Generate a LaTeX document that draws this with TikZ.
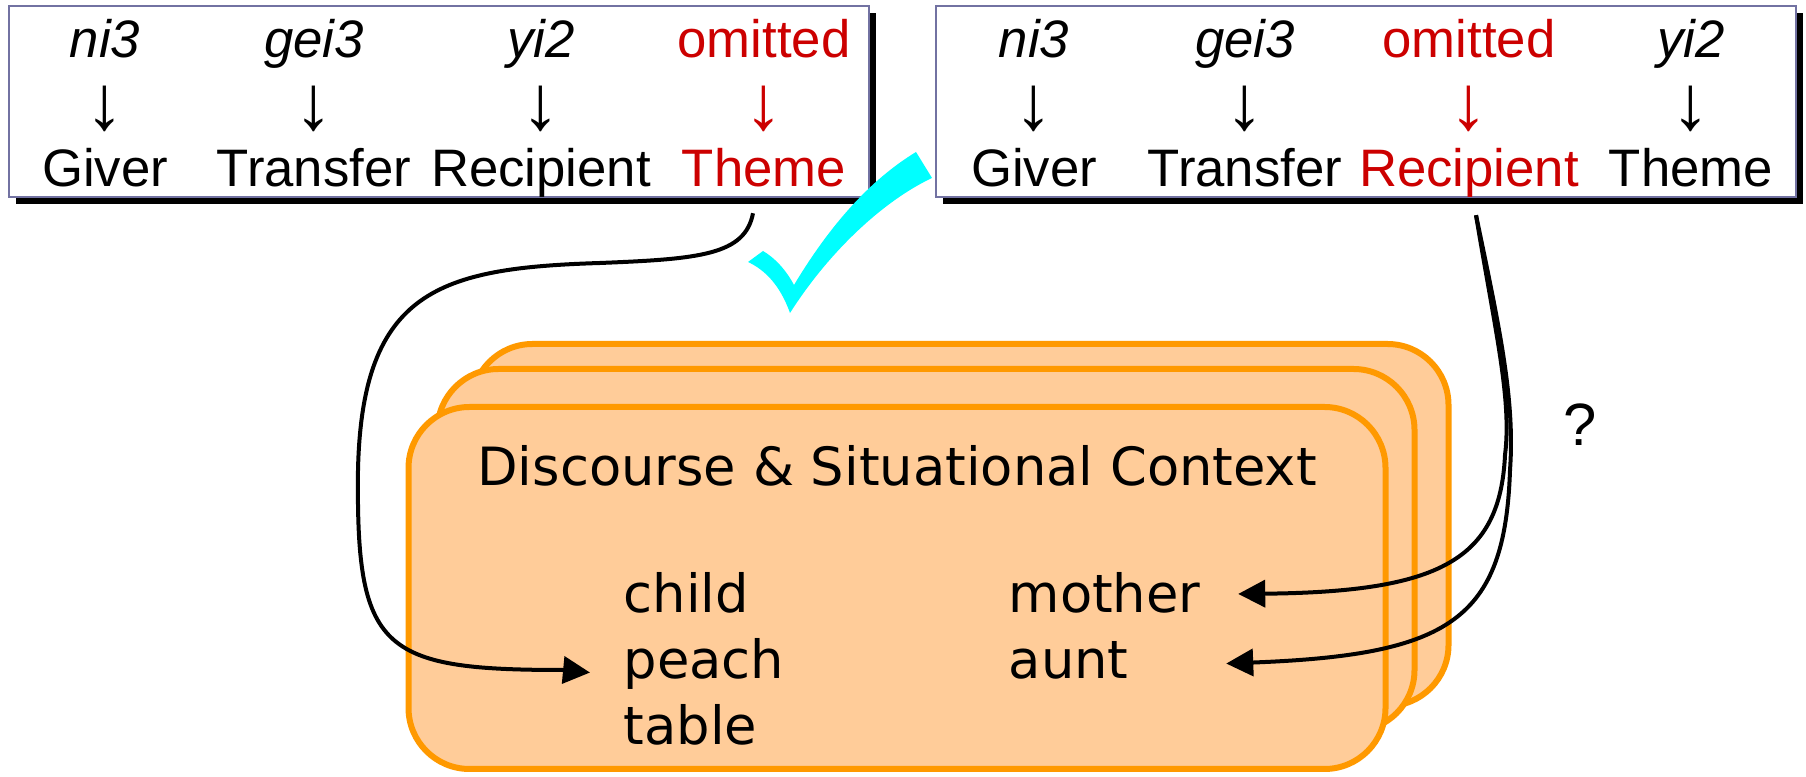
\documentclass[tikz,border=0pt]{standalone}
\usepackage{fontspec}
\usepackage{tikz}
\usetikzlibrary{arrows.meta,positioning,calc,shadows}
\newfontfamily\arialfont{Liberation Sans}
\newfontfamily\ctxfont{DejaVu Sans}
\definecolor{omitred}{HTML}{CC0000}
\definecolor{framegray}{HTML}{7272A2}
\definecolor{cardedge}{HTML}{FF9900}
\definecolor{cardfill}{HTML}{FFCC99}
\definecolor{tickcyan}{HTML}{00FFFF}

\begin{document}
\begin{tikzpicture}[
      x=0.1mm, y=-0.1mm,
      word/.style={
         inner sep=0pt,
         text height=11pt,
         text depth=3pt,
         font=\arialfont\fontsize{15}{18}\selectfont},
      pinyin/.style={word, font=\arialfont\itshape\fontsize{15}{18}\selectfont},
      down/.style={inner sep=0pt, font=\arialfont\fontsize{22}{26}\selectfont},
      gone/.style={text=omitred},
      frame/.style={
         draw=framegray,
         line width=0.15mm,
         fill=white,
         minimum width=86mm,
         minimum height=19.1mm,
         general shadow={fill=black, shadow xshift=0.7mm, shadow yshift=-0.7mm}},
      card/.style={
         draw=cardedge,
         fill=cardfill,
         line width=0.6mm,
         rounded corners=6.1mm,
         minimum width=97.7mm,
         minimum height=36.2mm},
      ctxword/.style={
         inner sep=0pt,
         text height=11pt,
         text depth=3pt,
         font=\ctxfont\fontsize{15}{18}\selectfont},
      myarrow/.style={-{Triangle[length=2.7mm,width=2.7mm]}, line width=0.4mm},
      node distance=1.5mm and 0mm
      ]
\useasboundingbox (0,0) rectangle (1806,777);

% the two readings
\node[frame] (frameA) at (439,101.5) {};
\node[frame] (frameB) at (1366,101.5) {};

\node[word,anchor=base] (giverA) at (105,187) {Giver};
\node[word,anchor=base] (transA) at (314,187) {Transfer};
\node[word,anchor=base] (recipA) at (541,187) {Recipient};
\node[word,gone,anchor=base] (themeA) at (764,187) {Theme};
\node[down,above=1.5mm of giverA] (downA1) {↓};
\node[down,above=1.5mm of transA] (downA2) {↓};
\node[down,above=1.5mm of recipA] (downA3) {↓};
\node[down,gone,above=1.5mm of themeA] (downA4) {↓};
\node[pinyin,above=1.7mm of downA1] (niA) {ni3};
\node[pinyin,above=1.7mm of downA2] (geiA) {gei3};
\node[pinyin,above=1.7mm of downA3] (yiA) {yi2};
\node[word,gone,above=1.7mm of downA4] (omitA) {omitted};

\node[word,anchor=base] (giverB) at (1034,187) {Giver};
\node[word,anchor=base] (transB) at (1245,187) {Transfer};
\node[word,gone,anchor=base] (recipB) at (1469,187) {Recipient};
\node[word,anchor=base] (themeB) at (1691,187) {Theme};
\node[down,above=1.5mm of giverB] (downB1) {↓};
\node[down,above=1.5mm of transB] (downB2) {↓};
\node[down,gone,above=1.5mm of recipB] (downB3) {↓};
\node[down,above=1.5mm of themeB] (downB4) {↓};
\node[pinyin,above=1.7mm of downB1] (niB) {ni3};
\node[pinyin,above=1.7mm of downB2] (geiB) {gei3};
\node[word,gone,above=1.7mm of downB3] (omitB) {omitted};
\node[pinyin,above=1.7mm of downB4] (yiB) {yi2};

% tick
\fill[tickcyan] (790,313) .. controls (780,285) and (765,270) .. (748,262)
   -- (763,251) .. controls (775,258) and (786,270) .. (794,285)
   .. controls (830,225) and (870,180) .. (916,152)
   -- (932,178) .. controls (885,200) and (830,250) .. (790,313) -- cycle;

% context cards, back to front
\node[card] (cardC) at (960,525) {};
\node[card] (cardB) at (926,550) {};
\node[card] (cardA) at (897,588) {};

\node[ctxword,anchor=base] (ctx) at (897,486) {Discourse \& Situational Context};
\node[ctxword,anchor=base west] (child) at (623,613) {child};
\node[ctxword,below=of child.south west,anchor=north west] (peach) {peach};
\node[ctxword,below=of peach.south west,anchor=north west] (table) {table};
\node[ctxword,anchor=base west] (mother) at (1008,613) {mother};
\node[ctxword,below=of mother.south west,anchor=north west] (aunt) {aunt};

\node[inner sep=0pt,font=\arialfont\fontsize{17}{20}\selectfont] (query) at (1580,425) {?};

\coordinate (fromTheme) at ($(themeA.south)+(-11,15)$);
\coordinate (fromRecip) at ($(recipB.south)+(7,17)$);

\draw[myarrow] (fromTheme) .. controls (745,255) and (700,259) .. (600,263)
   .. controls (440,268) and (362,290) .. (358,470)
   .. controls (356,650) and (380,670) .. (563,670) -- ($(peach.west)+(-33,8)$);
\draw[myarrow] (fromRecip) .. controls (1495,330) and (1512,400) .. (1505,455)
   .. controls (1500,560) and (1440,592) .. ($(mother.east)+(37,-5)$);
\draw[myarrow] (fromRecip) .. controls (1500,330) and (1515,400) .. (1510,470)
   .. controls (1505,620) and (1450,655) .. ($(aunt.east)+(97,-1)$);

\end{tikzpicture}
\end{document}
